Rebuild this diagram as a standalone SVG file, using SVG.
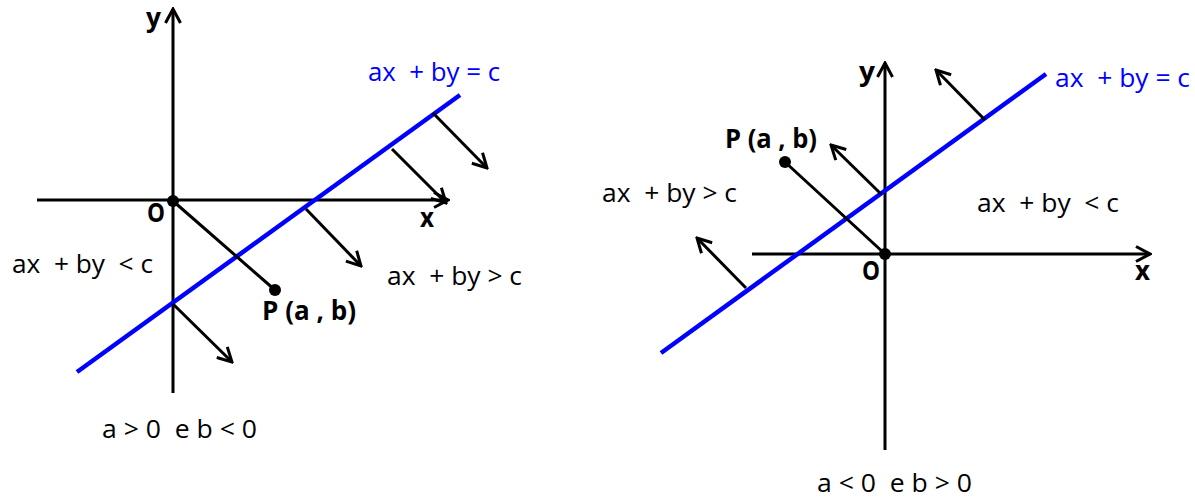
<svg xmlns="http://www.w3.org/2000/svg" width="1195" height="500" viewBox="0 0 1195 500">
<style>
.ax{stroke:#000;stroke-width:3;fill:none}
.ar{stroke:#000;stroke-width:3;fill:none;marker-end:url(#head)}
.bl{stroke:#0000ff;stroke-width:4.5;fill:none}
.t{font-family:"Open Sans","Noto Sans",sans-serif;font-size:26px;fill:#000}
.b{font-family:"Open Sans","Noto Sans",sans-serif;font-size:26px;font-weight:bold;fill:#000}
.tb{font-family:"Open Sans","Noto Sans",sans-serif;font-size:26px;fill:#0000ff}
</style>
<defs>
<marker id="head" markerUnits="userSpaceOnUse" viewBox="0 0 18 18" markerWidth="18" markerHeight="18" refX="16" refY="9" orient="auto">
<path d="M2,1.5 L16,9 L2,16.5" stroke="#000" stroke-width="3" fill="none"/>
</marker>
</defs>
<g id="left-graph">
<g id="left-axes">
<line class="ar" x1="173" y1="393" x2="173" y2="9"/>
<line class="ar" x1="37" y1="200" x2="448" y2="200"/>
</g>
<g id="left-line">
<line class="bl" x1="77" y1="372" x2="460" y2="95"/>
</g>
<g id="left-connectors">
<line class="ar" x1="433" y1="113" x2="487" y2="168"/>
<line class="ar" x1="392" y1="149" x2="446" y2="203"/>
<line class="ar" x1="306" y1="209" x2="361" y2="266"/>
<line class="ar" x1="173" y1="304" x2="232" y2="362"/>
<line class="ax" x1="173" y1="201" x2="275" y2="290"/>
</g>
<g id="left-points">
<circle cx="173" cy="201" r="6" fill="#000"/>
<circle cx="275" cy="290" r="6" fill="#000"/>
</g>
<g id="left-labels">
<text class="b" x="146" y="27" textLength="15" lengthAdjust="spacingAndGlyphs">y</text>
<text class="b" x="147" y="222" textLength="18" lengthAdjust="spacingAndGlyphs">O</text>
<text class="b" x="420" y="227" textLength="14" lengthAdjust="spacingAndGlyphs">x</text>
<text class="tb" x="368" y="81" textLength="132" lengthAdjust="spacingAndGlyphs" xml:space="preserve">ax  + by = c</text>
<text class="t" x="12" y="273" textLength="141" lengthAdjust="spacingAndGlyphs" xml:space="preserve">ax  + by  &lt; c</text>
<text class="t" x="387" y="285" textLength="135" lengthAdjust="spacingAndGlyphs" xml:space="preserve">ax  + by &gt; c</text>
<text class="b" x="262" y="320" textLength="94" lengthAdjust="spacingAndGlyphs" xml:space="preserve">P (a , b)</text>
<text class="t" x="102" y="438" textLength="155" lengthAdjust="spacingAndGlyphs" xml:space="preserve">a &gt; 0  e b &lt; 0</text>
</g>
</g>
<g id="right-graph">
<g id="right-axes">
<line class="ar" x1="885" y1="450" x2="885" y2="63"/>
<line class="ar" x1="752" y1="254" x2="1150" y2="254"/>
</g>
<g id="right-line">
<line class="bl" x1="661" y1="353" x2="1046" y2="74"/>
</g>
<g id="right-connectors">
<line class="ar" x1="985" y1="120" x2="936" y2="70"/>
<line class="ar" x1="881" y1="194" x2="831" y2="145"/>
<line class="ar" x1="746" y1="288" x2="697" y2="238"/>
<line class="ax" x1="885" y1="254" x2="785" y2="162"/>
</g>
<g id="right-points">
<circle cx="885" cy="254" r="6" fill="#000"/>
<circle cx="785" cy="162" r="6" fill="#000"/>
</g>
<g id="right-labels">
<text class="b" x="859" y="81" textLength="16" lengthAdjust="spacingAndGlyphs">y</text>
<text class="b" x="862" y="280" textLength="18" lengthAdjust="spacingAndGlyphs">O</text>
<text class="b" x="1135" y="280" textLength="15" lengthAdjust="spacingAndGlyphs">x</text>
<text class="tb" x="1055" y="87" textLength="135" lengthAdjust="spacingAndGlyphs" xml:space="preserve">ax  + by = c</text>
<text class="t" x="602" y="202" textLength="135" lengthAdjust="spacingAndGlyphs" xml:space="preserve">ax  + by &gt; c</text>
<text class="t" x="977" y="212" textLength="142" lengthAdjust="spacingAndGlyphs" xml:space="preserve">ax  + by  &lt; c</text>
<text class="b" x="725" y="148" textLength="92" lengthAdjust="spacingAndGlyphs" xml:space="preserve">P (a , b)</text>
<text class="t" x="817" y="492" textLength="155" lengthAdjust="spacingAndGlyphs" xml:space="preserve">a &lt; 0  e b &gt; 0</text>
</g>
</g>
</svg>
